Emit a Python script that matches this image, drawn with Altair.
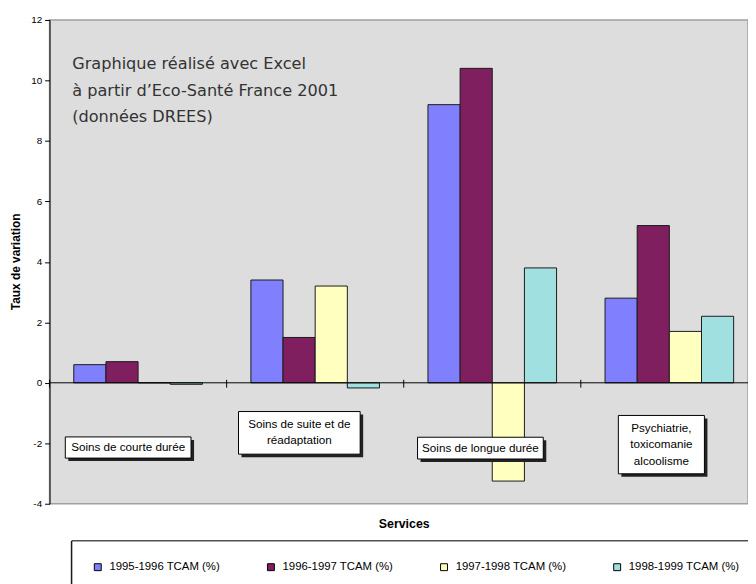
import altair as alt
import pandas as pd

# ---- data ----
categories = ["Soins de courte durée", "Soins de suite et de réadaptation",
              "Soins de longue durée", "Psychiatrie, toxicomanie alcoolisme"]
series = ["1995-1996 TCAM (%)", "1996-1997 TCAM (%)", "1997-1998 TCAM (%)", "1998-1999  TCAM (%)"]
colors = ["#8080FF", "#7F1F5F", "#FFFFC0", "#A0E0E0"]
v_95_96 = [0.6, 3.4, 9.2, 2.8]
v_96_97 = [0.7, 1.5, 10.4, 5.2]
v_97_98 = [0.0, 3.2, -3.25, 1.7]
v_98_99 = [-0.05, -0.17, 3.8, 2.2]

y_ticks = [-4, -2, 0, 2, 4, 6, 8, 10, 12]

# category label boxes (x in category units, y in value units)
box_text = ["Soins de courte durée", "Soins de suite et de\nréadaptation",
            "Soins de longue durée", "Psychiatrie,\ntoxicomanie\nalcoolisme"]
box_x0 = [0.089, 1.067, 2.078, 3.212]
box_x1 = [0.799, 1.754, 2.788, 3.698]
box_y0 = [-1.79, -0.95, -1.80, -1.08]
box_y1 = [-2.49, -2.36, -2.52, -3.01]
box_text_y = [-2.14, -1.36, -2.16, -1.50]

note_text = ["Graphique  réalisé avec Excel\nà partir d\u2019Eco-Santé France 2001\n(données DREES)"]
note_x = [0.128]
note_y = [10.54]

# ---- tables ----
rows = []
for s, vals in zip(series, [v_95_96, v_96_97, v_97_98, v_98_99]):
    for c, v in zip(categories, vals):
        rows.append({"cat": c, "serie": s, "val": v})
df = pd.DataFrame(rows)

boxes = pd.DataFrame({"t": box_text, "x0": box_x0, "x1": box_x1, "y0": box_y0, "y1": box_y1,
                      "ty": box_text_y})
boxes["xc"] = (boxes.x0 + boxes.x1) / 2
notes = pd.DataFrame({"t": note_text, "x": note_x, "y": note_y})

FONT = "Liberation Sans"
RANGE_X = [0, 716]

yscale = alt.Scale(domain=[-4, 12], nice=False, zero=False)
yaxis = alt.Axis(values=y_ticks, title="Taux de variation", titleFont=FONT, titleFontSize=12,
                 titleFontWeight="bold", titleColor="black", titleX=-27, titleY=244,
                 labelFont=FONT, labelFontSize=10, labelColor="black", labelPadding=3,
                 labelExpr="'' + datum.value",
                 domainColor="black", tickColor="black", tickSize=5, grid=False)

xscale = alt.Scale(domain=categories, range=RANGE_X, paddingInner=0, paddingOuter=0)
xaxis = alt.Axis(title="Services", labels=False, ticks=False, domain=False,
                 titleFont=FONT, titleFontSize=12.5, titleFontWeight="bold",
                 titleColor="black", titlePadding=14)

bars = alt.Chart(df).mark_bar(stroke="#1a1a1a", strokeWidth=1, opacity=1).encode(
    x=alt.X("cat:N", sort=categories, scale=xscale, axis=xaxis),
    xOffset=alt.XOffset("serie:N", sort=series,
                        scale=alt.Scale(domain=series, paddingInner=0, paddingOuter=0.754)),
    y=alt.Y("val:Q", scale=yscale, axis=yaxis),
    color=alt.Color("serie:N", sort=series, scale=alt.Scale(domain=series, range=colors),
                    legend=alt.Legend(title=None, orient="none", legendX=22, legendY=526,
                                      direction="horizontal", columns=4, columnPadding=45,
                                      fillColor="white", strokeColor="black", padding=21,
                                      symbolType="square", symbolSize=49,
                                      symbolStrokeColor="black", symbolStrokeWidth=1,
                                      symbolOpacity=1, labelFont=FONT, labelFontSize=11.5,
                                      labelColor="black", labelOffset=6, labelLimit=300)),
)

legend_bg = alt.Chart(pd.DataFrame({"k": [0]})).mark_rect(
    fill="white", stroke="black", strokeWidth=1).encode(
    x=alt.value(22), x2=alt.value(760), y=alt.value(527), y2=alt.value(620))

zero = alt.Chart(pd.DataFrame({"z": [0]})).mark_rule(color="black", strokeWidth=1).encode(
    y=alt.Y("z:Q", scale=yscale, axis=yaxis))

ticks = alt.Chart(pd.DataFrame({"cat": categories})).mark_rule(color="black", strokeWidth=1).encode(
    x=alt.X("cat:N", sort=categories, scale=xscale, bandPosition=0, axis=xaxis),
    y=alt.datum(-0.16, scale=yscale, axis=yaxis),
    y2=alt.datum(0.1),
)

xq = alt.Scale(domain=[0, 4], range=RANGE_X, nice=False, zero=False)

shadow = alt.Chart(boxes).mark_rect(color="#222").transform_calculate(
    sx0="datum.x0 + 0.017", sx1="datum.x1 + 0.017", sy0="datum.y0 - 0.1", sy1="datum.y1 - 0.1"
).encode(
    x=alt.X("sx0:Q", scale=xq, axis=None), x2="sx1:Q",
    y=alt.Y("sy0:Q", scale=yscale, axis=yaxis), y2="sy1:Q",
)
box = alt.Chart(boxes).mark_rect(fill="white", stroke="black", strokeWidth=1).encode(
    x=alt.X("x0:Q", scale=xq, axis=None), x2="x1:Q",
    y=alt.Y("y0:Q", scale=yscale, axis=yaxis), y2="y1:Q",
)
box_lbl = alt.Chart(boxes).mark_text(font=FONT, fontSize=11.8, color="black", align="center",
                                      baseline="middle", lineBreak="\n", lineHeight=16.5).encode(
    x=alt.X("xc:Q", scale=xq, axis=None),
    y=alt.Y("ty:Q", scale=yscale, axis=yaxis),
    text="t:N",
)
note = alt.Chart(notes).mark_text(font="DejaVu Sans", fontSize=16.3, color="#333", align="left",
                                   baseline="middle", lineBreak="\n", lineHeight=27).encode(
    x=alt.X("x:Q", scale=xq, axis=None),
    y=alt.Y("y:Q", scale=yscale, axis=yaxis),
    text="t:N",
)

band_layers = alt.layer(legend_bg, bars, zero, ticks)
annot_layers = alt.layer(shadow, box, box_lbl, note)

chart = alt.layer(band_layers, annot_layers).resolve_scale(x="independent").properties(
    width=706, height=489,
    padding={"left": 42, "top": 9, "right": 0, "bottom": 78},
    autosize="none",
).configure_view(fill="#DDDDDD", stroke="#A0A0A0", strokeWidth=1.5)

chart.save("out.html", embed_options={"renderer": "svg", "actions": False})
